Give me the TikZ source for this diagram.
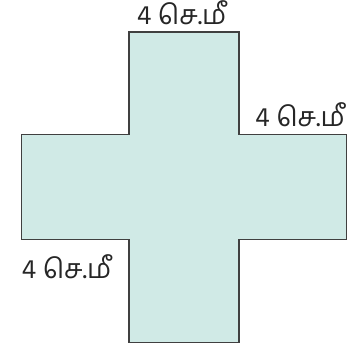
\documentclass[tikz,border=0pt]{standalone}
\usepackage{fontspec}
\newfontfamily\tamilfont[Script=Tamil]{Hind Madurai}
\definecolor{crossfill}{HTML}{D0EAE6}
\definecolor{crossline}{HTML}{404040}
\begin{document}
\begin{tikzpicture}[x=1pt,y=-1pt,
  lbl/.style={font=\tamilfont\fontsize{27}{29}\selectfont, text=black!85, inner sep=0pt, anchor=base}]
\useasboundingbox (0,0) rectangle (358,354);
\draw[fill=crossfill, draw=crossline, line width=1.2pt]
  (129,32) -- (239,32) -- (239,134.7) -- (346.7,134.7) -- (346.7,239.3)
  -- (239,239.3) -- (239,342.3) -- (129,342.3) -- (129,239.3) -- (21.7,239.3)
  -- (21.7,134.7) -- (129,134.7) -- cycle;
\node[lbl] (top) at (181.7,24) {4 செ.மீ};
\node[lbl] (right) at (300,126) {4 செ.மீ};
\node[lbl] (left) at (66.5,278) {4 செ.மீ};
\end{tikzpicture}
\end{document}
